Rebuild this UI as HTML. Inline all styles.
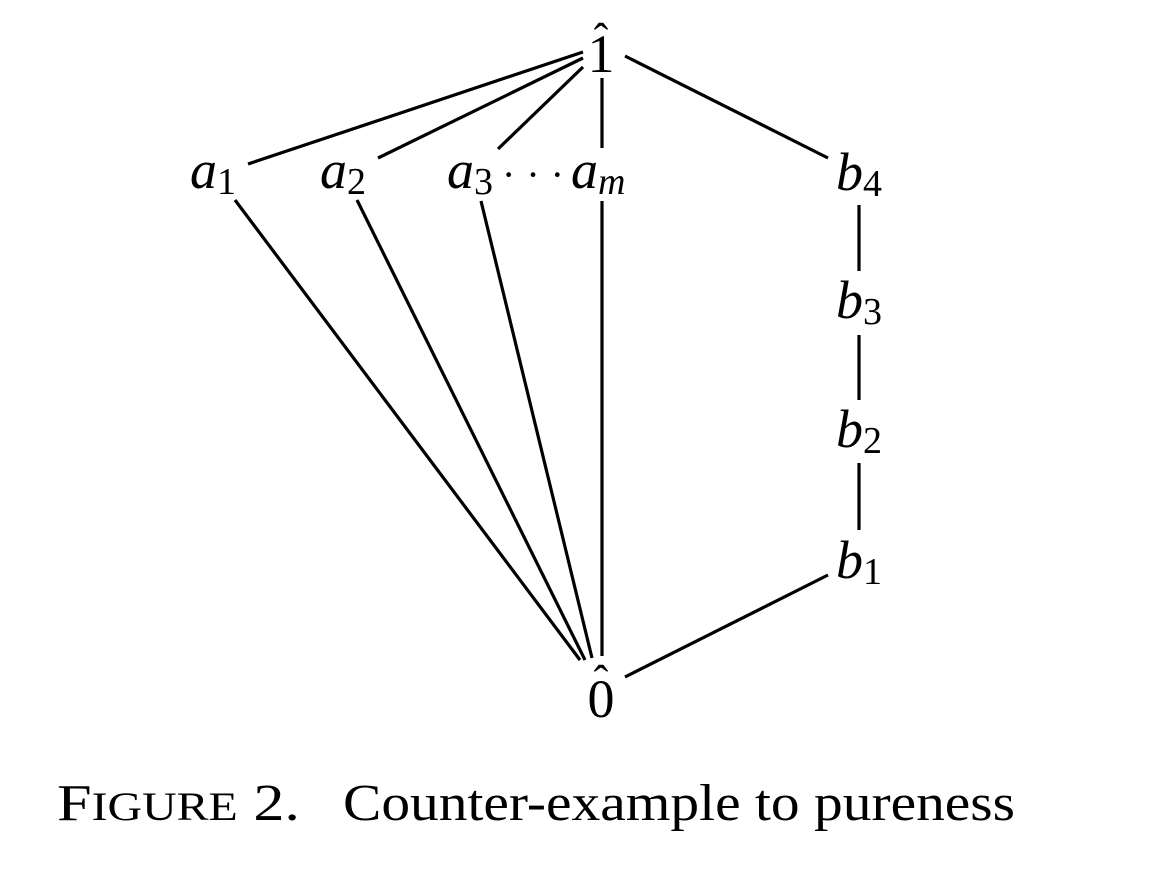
<!DOCTYPE html>
<html><head><style>
html,body{margin:0;padding:0;background:#fff;}
svg{display:block;}
text{font-family:"Liberation Serif",serif;fill:#000;}
.i{font-style:italic;font-size:54px;}
.s{font-size:38px;font-style:normal;}
</style></head><body>
<svg width="1168" height="880" viewBox="0 0 1168 880">
<g stroke="#000" stroke-width="3.2" stroke-linecap="butt" fill="none">
<line x1="248" y1="164" x2="583" y2="52"/>
<line x1="378" y1="158" x2="583" y2="58"/>
<line x1="498" y1="149" x2="583" y2="67"/>
<line x1="602" y1="78" x2="602" y2="148"/>
<line x1="625" y1="56" x2="828" y2="158"/>
<line x1="235" y1="200" x2="580" y2="660"/>
<line x1="357" y1="200" x2="585" y2="660"/>
<line x1="481" y1="201" x2="592" y2="658"/>
<line x1="602" y1="201" x2="602" y2="656"/>
<line x1="625" y1="677" x2="828" y2="575"/>
<line x1="859" y1="205" x2="859" y2="271"/>
<line x1="859" y1="335" x2="859" y2="400"/>
<line x1="859" y1="463" x2="859" y2="530"/>
</g>
<text x="601" y="72" font-size="54" text-anchor="middle">1</text>
<text x="601" y="54" font-size="44" text-anchor="middle">ˆ</text>
<text x="601" y="717" font-size="54" text-anchor="middle">0</text>
<text x="601" y="696" font-size="44" text-anchor="middle">ˆ</text>
<text class="i" x="190" y="188">a<tspan class="s" dy="6">1</tspan></text>
<text class="i" x="320" y="188">a<tspan class="s" dy="6">2</tspan></text>
<text class="i" x="447" y="188">a<tspan class="s" dy="6">3</tspan></text>
<text x="502" y="188" font-size="40" textLength="62">· · ·</text>
<text class="i" x="571" y="188">a<tspan dy="6" font-size="38">m</tspan></text>
<text class="i" x="836" y="190">b<tspan class="s" dy="6">4</tspan></text>
<text class="i" x="836" y="318">b<tspan class="s" dy="6">3</tspan></text>
<text class="i" x="836" y="447">b<tspan class="s" dy="6">2</tspan></text>
<text class="i" x="836" y="578">b<tspan class="s" dy="6">1</tspan></text>
<text x="57" y="820" font-size="52" textLength="243" lengthAdjust="spacingAndGlyphs">F<tspan font-size="40">IGURE</tspan> 2.</text>
<text x="343" y="820" font-size="52" textLength="672" lengthAdjust="spacingAndGlyphs">Counter-example to pureness</text>
</svg>
</body></html>
